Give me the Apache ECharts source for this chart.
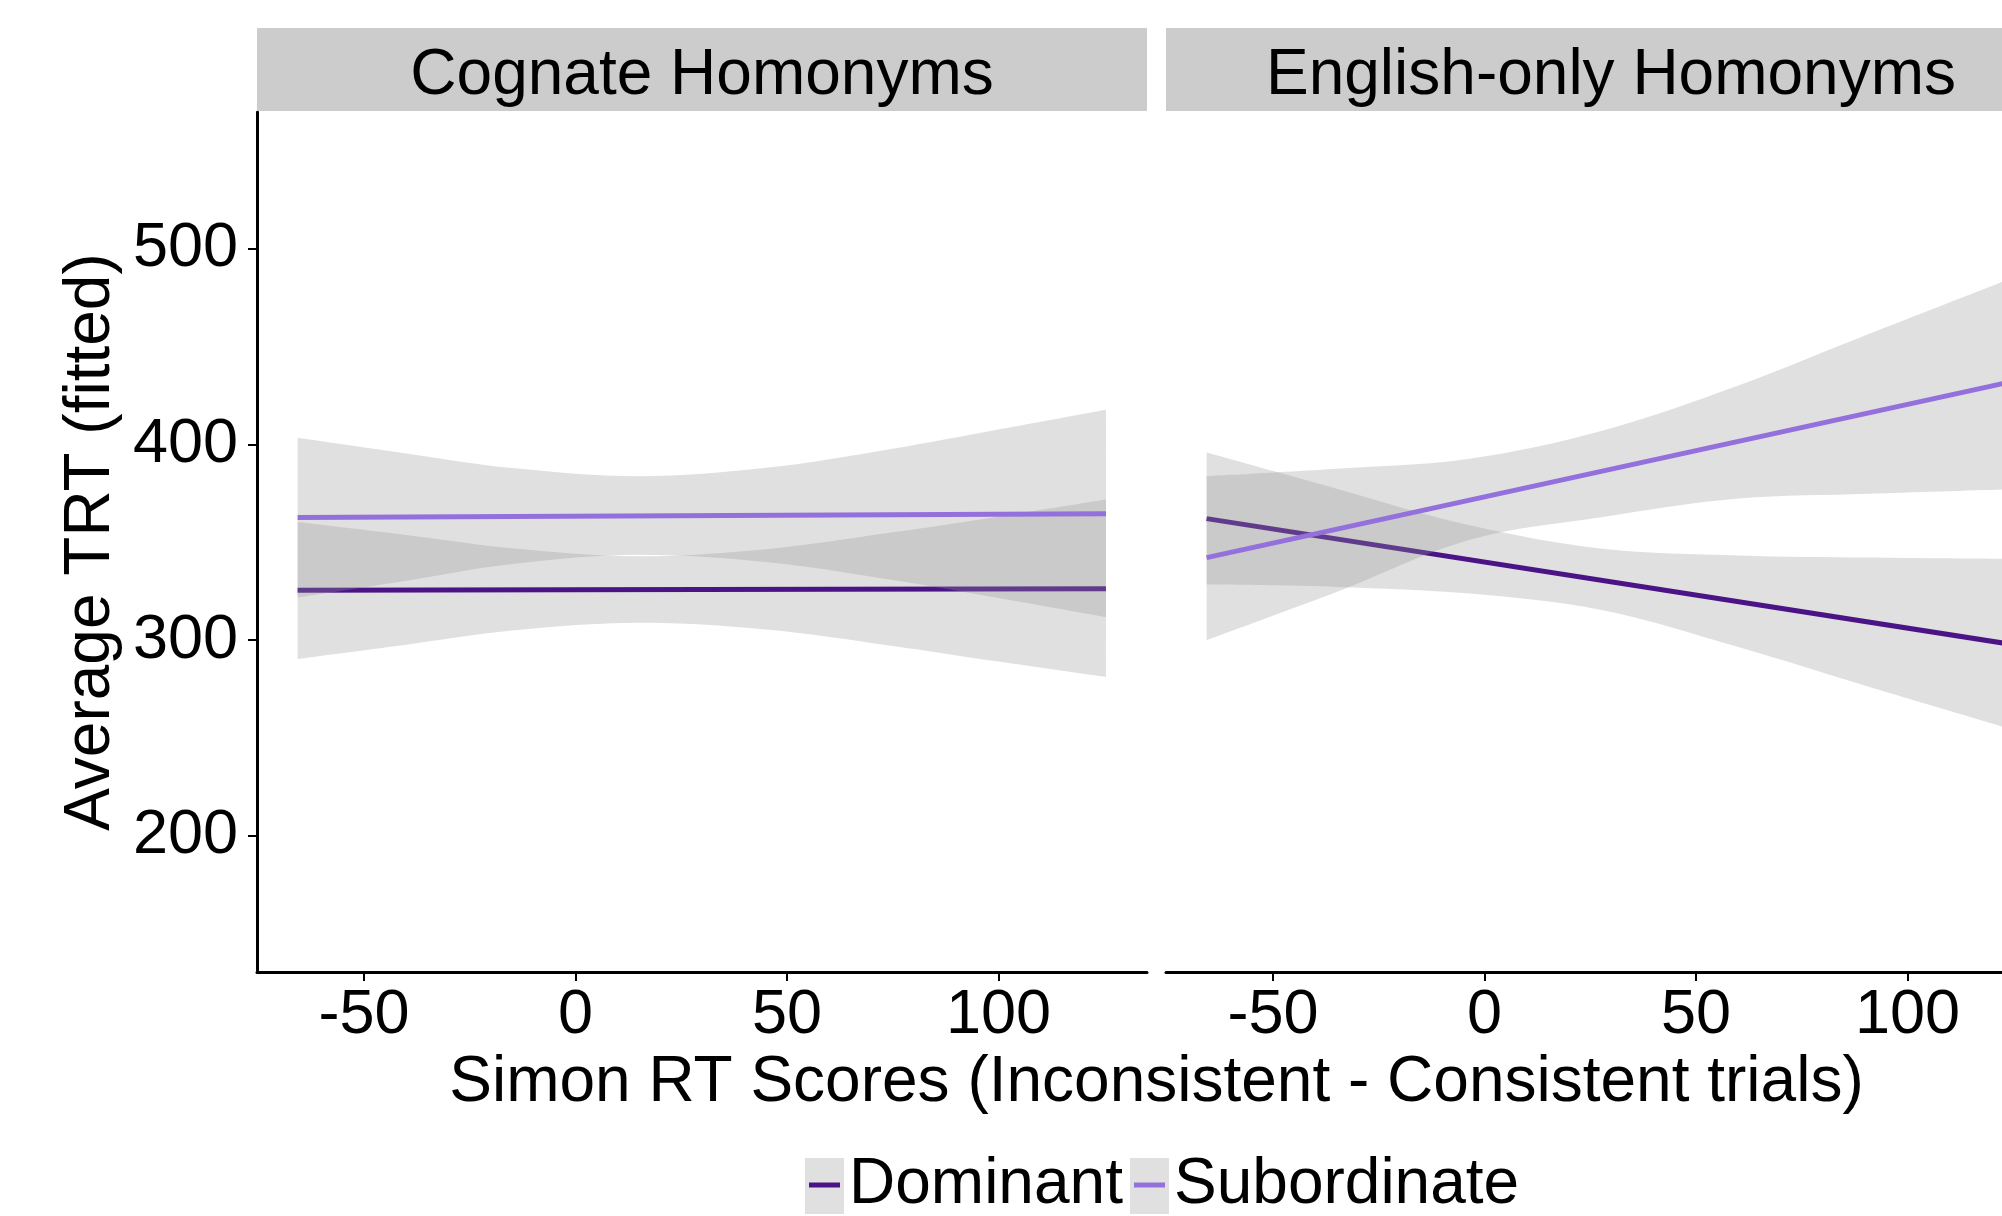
<!DOCTYPE html>
<html>
<head>
<meta charset="utf-8">
<style>
  html, body { margin: 0; padding: 0; background: #ffffff; }
  #chart { width: 2002px; height: 1216px; }
</style>
<script src="https://cdn.jsdelivr.net/npm/echarts@6/dist/echarts.min.js"></script>
</head>
<body>
<div id="chart"></div>
<script>
// ---------------- data ----------------
const panels = ['Cognate Homonyms', 'English-only Homonyms'];
const groups = ['Dominant', 'Subordinate'];
const xTicks = [-50, 0, 50, 100];
const yTicks = [200, 300, 400, 500];

// fitted regression lines (end points of the observed Simon range)
const lineX = [-65.7, 125.4];
const cogDomLine = [325.5, 326.3];
const cogSubLine = [362.6, 364.6];
const engDomLine = [362.1, 297.6];
const engSubLine = [342.2, 432.4];

// confidence ribbons, Cognate panel
const cogBandX = [-65.7, -40, -15, 15, 45, 75, 100, 125.4];
const cogDomLo = [290.4, 297.7, 304.9, 308.9, 305.5, 297.1, 289.1, 281.2];
const cogDomHi = [360.3, 353.7, 346.9, 342.9, 346.5, 355.1, 363.1, 371.8];
const cogSubLo = [321.8, 330.4, 338.9, 343.7, 340.0, 330.8, 321.6, 311.8];
const cogSubHi = [403.4, 395.4, 387.9, 383.7, 388.0, 397.8, 407.6, 417.7];

// confidence ribbons, English-only panel
const engBandX = [-65.7, -35, -3.5, 28, 60, 91, 125.4];
const engDomLo = [328.4, 327.2, 323.8, 315.3, 296.5, 276.1, 254.0];
const engDomHi = [395.8, 377.4, 358.7, 346.7, 343.3, 342.2, 341.5];
const engSubLo = [300.0, 324.6, 351.3, 362.9, 372.3, 374.8, 377.2];
const engSubHi = [383.8, 387.6, 392.7, 407.1, 430.1, 456.5, 485.5];

// ---------------- styling / layout ----------------
const FONT = '"Liberation Sans", Arial, Helvetica, sans-serif';
const colors = { Dominant: '#4A1486', Subordinate: '#9370DB' };
const bandColor = '#999999', bandOpacity = 0.3;
const plotTop = 112, plotH = 860, plotW = 890;
const lefts = [257, 1166];
const xRange = [-75.3, 135.1];
const yRange = [130.6, 569.7];

const chart = echarts.init(document.getElementById('chart'), null, { renderer: 'canvas' });

// Rows are [y, x] with encode so that the stacked dimension is y (stack by index).
function bandPair(name, gi, xs, lo, hi, z) {
  const stackId = 'band-' + gi + '-' + name;
  return [
    {
      type: 'line', name: name + ' lower', xAxisIndex: gi, yAxisIndex: gi,
      stack: stackId, smooth: 0.35, symbol: 'none', showSymbol: false, silent: true, z: z,
      encode: { x: 1, y: 0 },
      lineStyle: { opacity: 0 },
      data: xs.map((x, i) => [lo[i], x])
    },
    {
      type: 'line', name: name + ' band', xAxisIndex: gi, yAxisIndex: gi,
      stack: stackId, smooth: 0.35, symbol: 'none', showSymbol: false, silent: true, z: z,
      encode: { x: 1, y: 0 },
      lineStyle: { opacity: 0 },
      areaStyle: { color: bandColor, opacity: bandOpacity },
      data: xs.map((x, i) => [hi[i] - lo[i], x])
    }
  ];
}
function fitLine(name, gi, ys, z) {
  return {
    type: 'line', name: name, xAxisIndex: gi, yAxisIndex: gi,
    symbol: 'none', silent: true, z: z,
    lineStyle: { color: colors[name], width: 5, cap: 'butt' },
    itemStyle: { color: colors[name] },
    data: lineX.map((x, i) => [x, ys[i]])
  };
}

const series = [
  ...bandPair('Dominant', 0, cogBandX, cogDomLo, cogDomHi, 2),
  fitLine('Dominant', 0, cogDomLine, 3),
  ...bandPair('Subordinate', 0, cogBandX, cogSubLo, cogSubHi, 4),
  fitLine('Subordinate', 0, cogSubLine, 5),
  ...bandPair('Dominant', 1, engBandX, engDomLo, engDomHi, 2),
  fitLine('Dominant', 1, engDomLine, 3),
  ...bandPair('Subordinate', 1, engBandX, engSubLo, engSubHi, 4),
  fitLine('Subordinate', 1, engSubLine, 5)
];

const xAxes = lefts.map((l, i) => ({
  type: 'value', gridIndex: i, min: xRange[0], max: xRange[1],
  splitLine: { show: false },
  axisLine: { show: true, onZero: false, lineStyle: { color: '#000', width: 3 } },
  axisTick: { show: true, length: 9, customValues: xTicks, lineStyle: { color: '#000', width: 2 } },
  axisLabel: { customValues: xTicks, fontSize: 63, fontFamily: FONT, color: '#000', margin: 12 }
}));

const yAxes = lefts.map((l, i) => ({
  type: 'value', gridIndex: i, min: yRange[0], max: yRange[1],
  show: i === 0,
  splitLine: { show: false },
  name: i === 0 ? 'Average TRT (fitted)' : '',
  nameLocation: 'middle', nameRotate: 90, nameGap: 134,
  nameTextStyle: { fontSize: 64, fontFamily: FONT, color: '#000' },
  axisLine: { show: true, onZero: false, lineStyle: { color: '#000', width: 3 } },
  axisTick: { show: true, length: 9, customValues: yTicks, lineStyle: { color: '#000', width: 2 } },
  axisLabel: { customValues: yTicks, fontSize: 63, fontFamily: FONT, color: '#000', margin: 19, padding: [5, 0, 0, 0] }
}));

const graphics = [];
lefts.forEach((l, i) => {
  graphics.push({
    type: 'rect', shape: { x: l, y: 28, width: plotW, height: 83 },
    style: { fill: '#CCCCCC' }, z: 1
  });
  graphics.push({
    type: 'text', x: l + plotW / 2, y: 76, z: 2,
    style: { text: panels[i], font: '64px ' + FONT, fill: '#000', textAlign: 'center', textVerticalAlign: 'middle' }
  });
});
// x-axis title centred on the whole facet row
graphics.push({
  type: 'text', x: (lefts[0] + lefts[1] + plotW) / 2, y: 1083, z: 2,
  style: { text: 'Simon RT Scores (Inconsistent - Consistent trials)', font: '64px ' + FONT, fill: '#000', textAlign: 'center', textVerticalAlign: 'middle' }
});
// legend key backgrounds
const keyLefts = [805, 1130];
keyLefts.forEach(k => graphics.push({
  type: 'rect', shape: { x: k, y: 1158, width: 39, height: 56 },
  style: { fill: '#E0E0E0' }, z: 0
}));

const legends = groups.map((g, i) => ({
  left: keyLefts[i] + 4, top: 1153, padding: 0, orient: 'horizontal',
  itemWidth: 31, itemHeight: 5, icon: 'rect', selectedMode: false,
  textStyle: { fontSize: 64, fontFamily: FONT, color: '#000', lineHeight: 64, padding: [0, 0, 0, 4] },
  data: [{ name: g, icon: 'rect', itemStyle: { color: colors[g] } }]
}));

chart.setOption({
  animation: false,
  backgroundColor: '#ffffff',
  grid: lefts.map(l => ({ left: l, top: plotTop, width: plotW, height: plotH, containLabel: false, outerBoundsMode: 'none' })),
  xAxis: xAxes,
  yAxis: yAxes,
  legend: legends,
  graphic: graphics,
  series: series
});
</script>
</body>
</html>
